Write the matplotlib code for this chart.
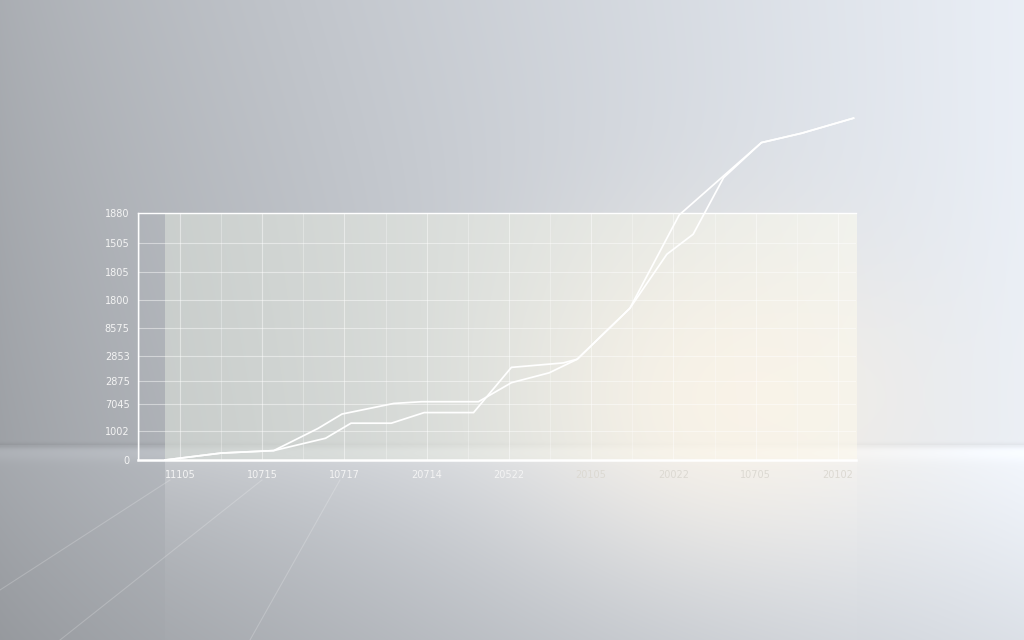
import numpy as np
import matplotlib
matplotlib.use("Agg")
import matplotlib.pyplot as plt

# tick labels (as printed in the picture)
y_ticks = [0, 11.7, 22.7, 32.0, 42.1, 53.4, 64.8, 76.1, 87.9, 100]
y_labels = ["0", "1002", "7045", "2875", "2853", "8575", "1800", "1805", "1505", "1880"]
x_ticks = [0, 1, 2, 3, 4, 5, 6, 7, 8]
x_labels = ["11105", "10715", "10717", "20714", "20522", "20105", "20022", "10705", "20102"]

# series
line_a_x = [-0.18, 0.50, 1.14, 1.68, 1.97, 2.60, 2.94, 3.63, 4.03, 4.49, 4.83, 5.47, 6.07, 7.07, 7.56, 8.19]
line_a_y = [0, 2.8, 3.8, 12.8, 18.6, 22.9, 23.6, 23.6, 31.3, 35.3, 40.8, 61.4, 99.2, 128.5, 132.3, 138.4]
line_b_x = [-0.18, 0.50, 1.14, 1.77, 2.08, 2.57, 2.97, 3.57, 4.03, 4.66, 4.83, 5.47, 5.92, 6.24, 6.61, 7.07, 7.56, 8.19]
line_b_y = [0, 2.8, 3.8, 8.8, 14.9, 14.9, 19.2, 19.2, 37.5, 39.3, 40.8, 61.4, 83.3, 91.4, 114.3, 128.5, 132.3, 138.4]

W, H = 1024, 640
fig = plt.figure(figsize=(W / 100, H / 100), dpi=100)

# ---- background: wall, floor, warm glow, panel ----
X, Y = np.meshgrid(np.arange(W), np.arange(H))
u = X / W
horizon = 445

wall = 0.64 + 0.31 * np.clip(u, 0, 1) ** 0.85
wall = wall + 0.05 * (1 - Y / horizon) * (1 - u)
floor_t = np.clip((Y - horizon) / (H - horizon), 0, 1)
floor = (0.65 + 0.30 * u ** 0.9) * (1.04 - 0.10 * floor_t)
base = np.where(Y < horizon, wall, floor)
# thin dark seam at the horizon, slight bright band right under it
base = base - 0.05 * np.exp(-((Y - horizon) / 3.0) ** 2)
base = base + 0.03 * np.exp(-((Y - horizon - 8) / 8.0) ** 2)
img = np.stack([base * 0.965, base * 0.985, base * 1.015], axis=-1)

# chart panel (lighter, slightly green on the left)
px0, px1, py0, py1 = 165, 856, 213, 460
inpanel = (X >= px0) & (X <= px1) & (Y >= py0) & (Y <= py1)
pt = (X - px0) / (px1 - px0)
panel = np.stack([0.87 + 0.12 * pt, 0.89 + 0.10 * pt, 0.86 + 0.08 * pt], axis=-1)
img = np.where(inpanel[..., None], 0.45 * img + 0.55 * panel, img)

# faint reflection of the panel on the floor
refl = (X >= px0) & (X <= px1) & (Y > py1)
rf = np.exp(-(Y - py1) / 70.0) * 0.25
img = np.where(refl[..., None], img * (1 - rf[..., None]) + rf[..., None] * 0.97, img)

# warm glow
g = np.exp(-(((X - 730) / 200.0) ** 2 + ((Y - 400) / 160.0) ** 2))
warm = np.array([1.0, 0.965, 0.91])
img = img * (1 - 0.7 * g[..., None]) + 0.7 * g[..., None] * warm
img = np.clip(img, 0, 1)

bg = fig.add_axes([0, 0, 1, 1])
bg.imshow(img, extent=[0, W, H, 0], aspect="auto", interpolation="bilinear")
bg.set_xlim(0, W)
bg.set_ylim(H, 0)
bg.axis("off")

# faint reflected diagonals on the floor
for x0, y0, x1, y1 in [(170, 480, 0, 590), (262, 480, 60, 640), (340, 480, 250, 640)]:
    bg.plot([x0, x1], [y0, y1], color="white", alpha=0.2, lw=0.8)

# ---- chart ----
left, right, top, bottom = 138, 856, 213, 460
ax = fig.add_axes([left / W, 1 - bottom / H, (right - left) / W, (bottom - top) / H])
ax.patch.set_alpha(0)

ax.set_yticks(y_ticks)
ax.set_yticklabels(y_labels)
ax.set_xticks(x_ticks)
ax.set_xticklabels(x_labels)
ax.set_xticks([i + 0.5 for i in range(-1, 9)], minor=True)
ax.set_xlim(-0.51, 8.22)
ax.set_ylim(0, 100)
ax.tick_params(axis="both", which="both", length=0, colors="#f4f4f4", labelsize=7, pad=6)
ax.tick_params(axis="x", pad=7)
# labels sitting in the warm glow read a little darker
for lab in ax.get_xticklabels()[5:]:
    lab.set_color("#dcd9d2")
ax.grid(True, which="major", color="white", alpha=0.45, lw=0.8)
ax.grid(True, which="minor", axis="x", color="white", alpha=0.3, lw=0.7)

for s in ["left", "top"]:
    ax.spines[s].set_color("white")
    ax.spines[s].set_linewidth(1.0)
ax.spines["bottom"].set_color("white")
ax.spines["bottom"].set_linewidth(1.8)
ax.spines["right"].set_visible(False)

ax.plot(line_a_x, line_a_y, color="white", lw=1.25, clip_on=False, solid_joinstyle="miter")
ax.plot(line_b_x, line_b_y, color="white", lw=1.25, clip_on=False, solid_joinstyle="miter")

fig.savefig("out.png", dpi=100)
